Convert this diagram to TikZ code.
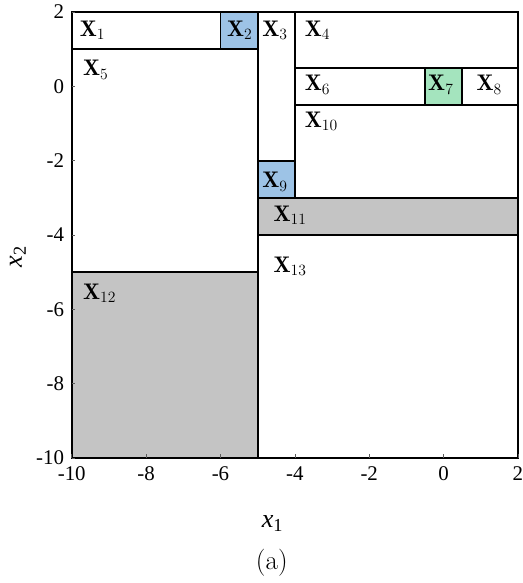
\documentclass[tikz,border=0pt]{standalone}
\usepackage{fontspec}
\usepackage{tikz}
\usetikzlibrary{positioning}
\newfontfamily\tickfont{Liberation Serif}
\definecolor{cellblue}{HTML}{9DC3E6}
\definecolor{cellgreen}{HTML}{A4E4BE}
\definecolor{cellgray}{HTML}{C4C4C4}
\definecolor{bk70}{HTML}{5C5C5C}
\tikzset{
  cell/.style={draw=black, line width=1.4pt, fill=#1},
  cell/.default=white,
  celllabel/.style={anchor=base west, inner sep=0pt, font=\LARGE},
  tickmark/.style={draw=bk70, line width=0.4pt},
  ticklabel/.style={font=\tickfont\fontsize{16}{18}\selectfont, inner sep=0pt},
  axislabel/.style={font=\tickfont\itshape\fontsize{20}{24}\selectfont, inner sep=1pt},
}

\begin{document}
\begin{tikzpicture}
  \useasboundingbox (-11.93,-13.36) rectangle (2.134,2.32);

  % cells of the partition
  \draw[cell] (-10,1) rectangle (-6,2);
  \draw[cell=cellblue] (-6,1) rectangle (-5,2);
  \draw[cell] (-5,-2) rectangle (-4,2);
  \draw[cell] (-4,0.5) rectangle (2,2);
  \draw[cell] (-10,-5) rectangle (-5,1);
  \draw[cell] (-4,-0.5) rectangle (-0.5,0.5);
  \draw[cell=cellgreen] (-0.5,-0.5) rectangle (0.5,0.5);
  \draw[cell] (0.5,-0.5) rectangle (2,0.5);
  \draw[cell=cellblue] (-5,-3) rectangle (-4,-2);
  \draw[cell] (-4,-3) rectangle (2,-0.5);
  \draw[cell=cellgray] (-5,-4) rectangle (2,-3);
  \draw[cell=cellgray] (-10,-10) rectangle (-5,-5);
  \draw[cell] (-5,-10) rectangle (2,-4);

  % cell labels
  \node[celllabel] (lx1) at (-9.79,1.35) {$\mathbf{X}_1$};
  \node[celllabel] (lx2) at (-5.83,1.35) {$\mathbf{X}_2$};
  \node[celllabel] (lx3) at (-4.88,1.35) {$\mathbf{X}_3$};
  \node[celllabel] (lx4) at (-3.74,1.35) {$\mathbf{X}_4$};
  \node[celllabel] (lx5) at (-9.70,0.28) {$\mathbf{X}_5$};
  \node[celllabel] (lx6) at (-3.74,-0.12) {$\mathbf{X}_6$};
  \node[celllabel] (lx7) at (-0.42,-0.12) {$\mathbf{X}_7$};
  \node[celllabel] (lx8) at (0.88,-0.12) {$\mathbf{X}_8$};
  \node[celllabel] (lx9) at (-4.88,-2.73) {$\mathbf{X}_9$};
  \node[celllabel] (lx10) at (-3.74,-1.11) {$\mathbf{X}_{10}$};
  \node[celllabel] (lx11) at (-4.58,-3.64) {$\mathbf{X}_{11}$};
  \node[celllabel] (lx12) at (-9.70,-5.73) {$\mathbf{X}_{12}$};
  \node[celllabel] (lx13) at (-4.58,-5.01) {$\mathbf{X}_{13}$};

  % ticks and tick labels
  \foreach \t in {-10,-8,...,2} {
    \draw[tickmark] (\t,-10) -- (\t,-9.9);
    \draw[tickmark] (-10,\t) -- (-9.9,\t);
    \node[ticklabel, anchor=north] (xt\t) at (\t,-10.22) {\t};
    \node[ticklabel, anchor=east] (yt\t) at (-10.2,\t) {\t};
  }

  % axis labels
  \node[axislabel] (xlab) at (-4.6,-11.75) {x\textsubscript{\upshape 1}};
  \node[axislabel, rotate=90] (ylab) at (-11.45,-4.58) {x\textsubscript{\upshape 2}};
  \node[font=\huge] (cap) at (-4.62,-12.82) {(a)};
\end{tikzpicture}
\end{document}
